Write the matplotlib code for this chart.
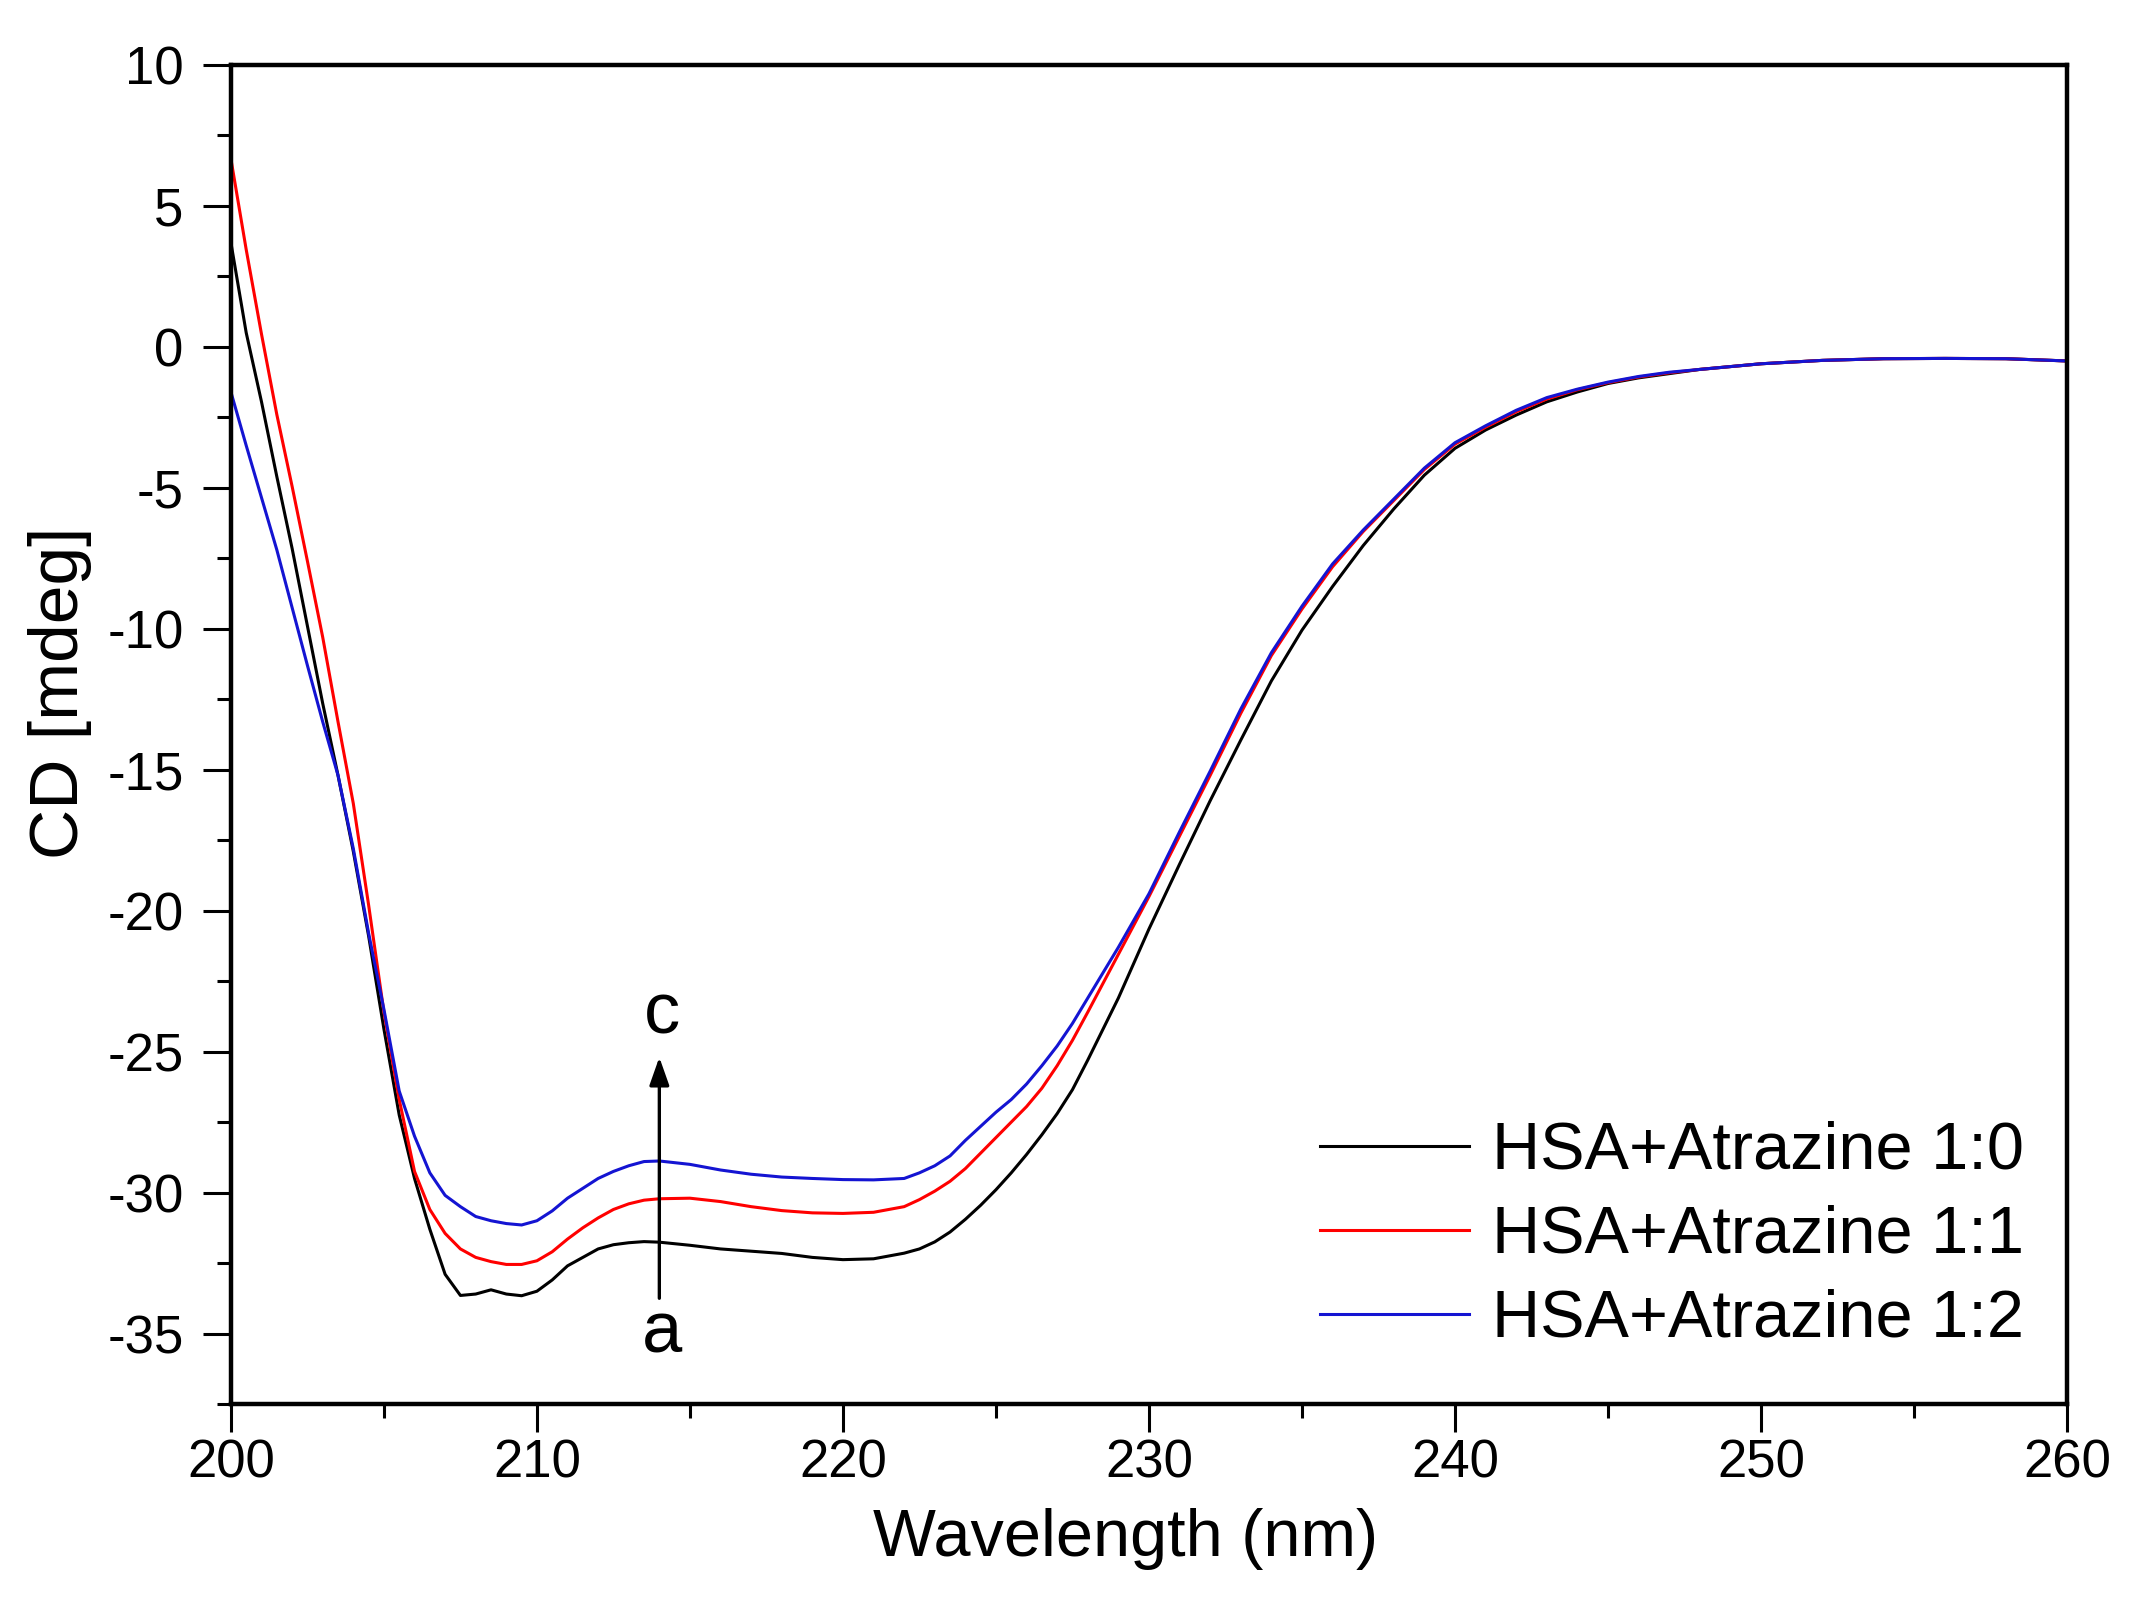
import matplotlib
matplotlib.use('Agg')
import matplotlib.pyplot as plt
from matplotlib.ticker import MultipleLocator

plt.rcParams['font.family'] = ['Liberation Sans', 'DejaVu Sans']
plt.rcParams['axes.unicode_minus'] = False

# ---- data ----
wavelength = [200, 200.5, 201, 201.5, 202, 202.5, 203, 203.5, 204, 204.5, 205, 205.5,
              206, 206.5, 207, 207.5, 208, 208.5, 209, 209.5, 210, 210.5, 211, 211.5,
              212, 212.5, 213, 213.5, 214,
              215, 216, 217, 218, 219, 220, 221,
              222, 222.5, 223, 223.5, 224, 224.5, 225, 225.5, 226, 226.5, 227, 227.5,
              228, 229, 230, 231, 232, 233, 234, 235, 236, 237, 238, 239, 240, 241,
              242, 243, 244, 245, 246, 247, 248,
              250, 252, 254, 256, 258, 260]

cd_1_0 = [3.7, 0.5, -1.95, -4.6, -7.15, -9.9, -12.65, -15.2, -17.9, -20.9, -24.2, -27.25,
          -29.5, -31.3, -32.9, -33.65, -33.6, -33.45, -33.6, -33.66, -33.5, -33.1, -32.6, -32.3,
          -32.0, -31.85, -31.78, -31.74, -31.76,
          -31.87, -32.0, -32.08, -32.16, -32.3, -32.38, -32.35,
          -32.15, -32.0, -31.75, -31.4, -30.95, -30.45, -29.9, -29.3, -28.65, -27.95, -27.2, -26.35,
          -25.3, -23.1, -20.65, -18.35, -16.1, -13.95, -11.85, -10.05, -8.5, -7.05, -5.75, -4.55, -3.6, -2.95,
          -2.42, -1.95, -1.6, -1.3, -1.1, -0.95, -0.8,
          -0.6, -0.48, -0.42, -0.41, -0.42, -0.5]

cd_1_1 = [6.67, 3.45, 0.45, -2.4, -4.95, -7.6, -10.3, -13.3, -16.2, -19.8, -23.6, -26.7,
          -29.25, -30.6, -31.45, -32.0, -32.3, -32.45, -32.55, -32.55, -32.42, -32.1, -31.65, -31.25,
          -30.9, -30.6, -30.4, -30.27, -30.22,
          -30.2, -30.32, -30.5, -30.64, -30.72, -30.74, -30.7,
          -30.5, -30.25, -29.95, -29.6, -29.15, -28.6, -28.05, -27.5, -26.95, -26.3, -25.5, -24.6,
          -23.6, -21.55, -19.5, -17.35, -15.2, -13.0, -10.95, -9.3, -7.8, -6.55, -5.45, -4.35, -3.45, -2.85,
          -2.3, -1.85, -1.52, -1.27, -1.07, -0.92, -0.8,
          -0.6, -0.48, -0.42, -0.41, -0.42, -0.5]

cd_1_2 = [-1.6, -3.5, -5.35, -7.2, -9.25, -11.3, -13.3, -15.2, -17.8, -20.8, -23.5, -26.4,
          -28.0, -29.3, -30.1, -30.5, -30.85, -31.0, -31.1, -31.15, -31.0, -30.65, -30.2, -29.85,
          -29.5, -29.25, -29.05, -28.9, -28.88,
          -29.0, -29.2, -29.35, -29.45, -29.5, -29.54, -29.55,
          -29.5, -29.3, -29.05, -28.7, -28.15, -27.65, -27.15, -26.7, -26.15, -25.5, -24.8, -24.0,
          -23.1, -21.3, -19.4, -17.2, -15.05, -12.85, -10.85, -9.2, -7.7, -6.5, -5.4, -4.3, -3.4, -2.8,
          -2.25, -1.8, -1.5, -1.25, -1.05, -0.9, -0.8,
          -0.6, -0.48, -0.42, -0.41, -0.42, -0.5]

labels = ['HSA+Atrazine 1:0', 'HSA+Atrazine 1:1', 'HSA+Atrazine 1:2']
colors = ['#000000', '#ff0000', '#1414d2']

# ---- figure ----
fig = plt.figure(figsize=(21.44, 16.04), dpi=100)
ax = fig.add_axes([0.1077, 0.1247, 0.9641 - 0.1077, 0.9595 - 0.1247])

for series, lab, col in zip([cd_1_0, cd_1_1, cd_1_2], labels, colors):
    ax.plot(wavelength, series, color=col, linewidth=2.2, label=lab)

ax.set_xlim(200, 260)
ax.set_ylim(-37.5, 10)
ax.xaxis.set_major_locator(MultipleLocator(10))
ax.xaxis.set_minor_locator(MultipleLocator(5))
ax.yaxis.set_major_locator(MultipleLocator(5))
ax.yaxis.set_minor_locator(MultipleLocator(2.5))

for sp in ax.spines.values():
    sp.set_linewidth(3.2)
ax.tick_params(which='both', direction='out', top=False, right=False, width=2.2)
ax.tick_params(which='major', length=20, labelsize=38)
ax.tick_params(axis='x', which='major', pad=5)
ax.tick_params(axis='y', which='major', pad=14)
ax.tick_params(which='minor', length=10)

ax.set_xlabel('Wavelength (nm)', fontsize=48)
ax.xaxis.set_label_coords(0.487, -0.078)
ax.set_ylabel('CD [mdeg]', fontsize=50)
ax.yaxis.set_label_coords(-0.0755, 0.531)

# arrow a -> c at 214 nm
ax.annotate('', xy=(214, -25.2), xytext=(214, -33.75),
            arrowprops=dict(arrowstyle='-|>,head_length=1.7,head_width=0.6',
                            color='black', lw=2.4, shrinkA=0, shrinkB=0))
ax.text(214.1, -23.7, 'c', fontsize=52, ha='center', va='center')
ax.text(214.1, -35.0, 'a', fontsize=52, ha='center', va='center')

ax.legend(loc='center left', bbox_to_anchor=(0.593, 0.1255), frameon=False,
          fontsize=48, handlelength=2.24, handletextpad=0.35, labelspacing=0.33,
          borderpad=0, borderaxespad=0)

fig.savefig('out.png', dpi=100)
